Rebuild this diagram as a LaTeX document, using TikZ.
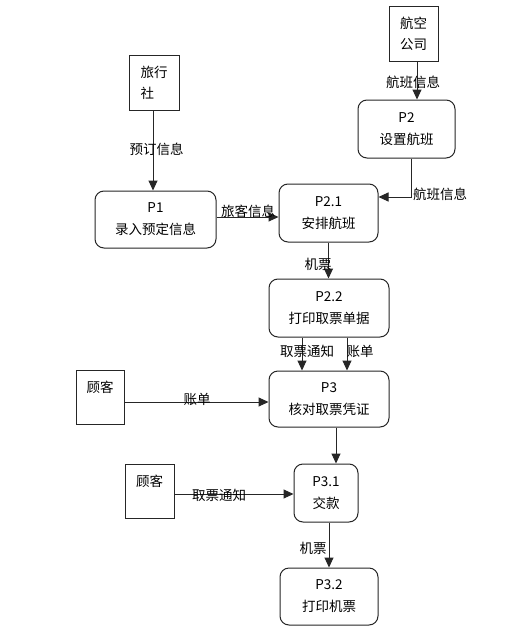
\documentclass[tikz,border=0pt]{standalone}
\usepackage{fontspec}
\setmainfont{Noto Sans CJK SC}
\usetikzlibrary{arrows.meta}
\tikzset{
  proc/.style={draw=black!85, line width=1pt, rounded corners=9pt, inner sep=0pt, align=center, font=\fontsize{13.5}{22}\selectfont},
  ent/.style={draw=black!85, line width=1pt, inner sep=0pt, font=\fontsize{13.5}{21}\selectfont},
  arr/.style={draw=black!85, line width=1pt, -{Triangle[length=10pt,width=9pt]}},
  lbl/.style={inner sep=0pt, font=\fontsize{13.5}{16}\selectfont}
}
\begin{document}
\begin{tikzpicture}[x=1pt,y=-1pt]
\useasboundingbox[fill=white] (0,0) rectangle (508,632);
% entities
\node[ent, minimum width=50pt, minimum height=55pt, align=left] (tas) at (154,82.5) {旅行\\社};
\node[ent, minimum width=49pt, minimum height=55pt, align=center] (hk) at (413.5,33.5) {航空\\公司};
\node[ent, minimum width=48pt, minimum height=54pt, align=center] (gk1) at (100,397) {顾客\\~};
\node[ent, minimum width=49pt, minimum height=54pt, align=center] (gk2) at (149.5,491) {顾客\\~};
% processes
\node[proc, minimum width=121pt, minimum height=57pt] (p1) at (155.5,219.5) {P1\\录入预定信息};
\node[proc, minimum width=97pt, minimum height=58pt] (p2) at (406.5,129) {P2\\设置航班};
\node[proc, minimum width=99pt, minimum height=58pt] (p21) at (328.5,213) {P2.1\\安排航班};
\node[proc, minimum width=120pt, minimum height=58pt] (p22) at (329,308) {P2.2\\打印取票单据};
\node[proc, minimum width=120pt, minimum height=56pt] (p3) at (329,399) {P3\\核对取票凭证};
\node[proc, minimum width=64pt, minimum height=58pt] (p31) at (326,493) {P3.1\\交款};
\node[proc, minimum width=98pt, minimum height=57pt] (p32) at (329,596.5) {P3.2\\打印机票};
% connectors
\draw[arr] ([xshift=-1pt]tas.south) -- ([xshift=-1pt]tas.south |- p1.north);
\draw[arr] ([xshift=3.5pt]hk.south) -- ([xshift=3.5pt]hk.south |- p2.north);
\draw[arr] ([xshift=4.5pt]p2.south) |- ([yshift=16pt]p21.east);
\draw[arr] ([yshift=2.5pt]p1.east) -- ([yshift=2.5pt]p1.east -| p21.west);
\draw[arr] (p21.south) -- (p21.south |- p22.north);
\draw[arr] ([xshift=-27pt]p22.south) -- ([xshift=-27pt]p22.south |- p3.north);
\draw[arr] ([xshift=18pt]p22.south) -- ([xshift=18pt]p22.south |- p3.north);
\draw[arr] ([yshift=-5pt]gk1.east) -- ([yshift=-5pt]gk1.east -| p3.west);
\draw[arr] ([xshift=7pt]p3.south) -- ([xshift=7pt]p3.south |- p31.north);
\draw[arr] ([yshift=-3pt]gk2.east) -- ([yshift=-3pt]gk2.east -| p31.west);
\draw[arr] ([xshift=3pt]p31.south) -- ([xshift=3pt]p31.south |- p32.north);
% labels
\node[lbl] (l1) at (156.5,149) {预订信息};
\node[lbl] (l2) at (413,82) {航班信息};
\node[lbl] (l3) at (440,194) {航班信息};
\node[lbl] (l4) at (248,211) {旅客信息};
\node[lbl] (l5) at (318,264) {机票};
\node[lbl] (l6) at (307,351) {取票通知};
\node[lbl] (l7) at (360,351) {账单};
\node[lbl] (l8) at (197,399) {账单};
\node[lbl] (l9) at (219,495) {取票通知};
\node[lbl] (l10) at (313,548) {机票};
\end{tikzpicture}
\end{document}
